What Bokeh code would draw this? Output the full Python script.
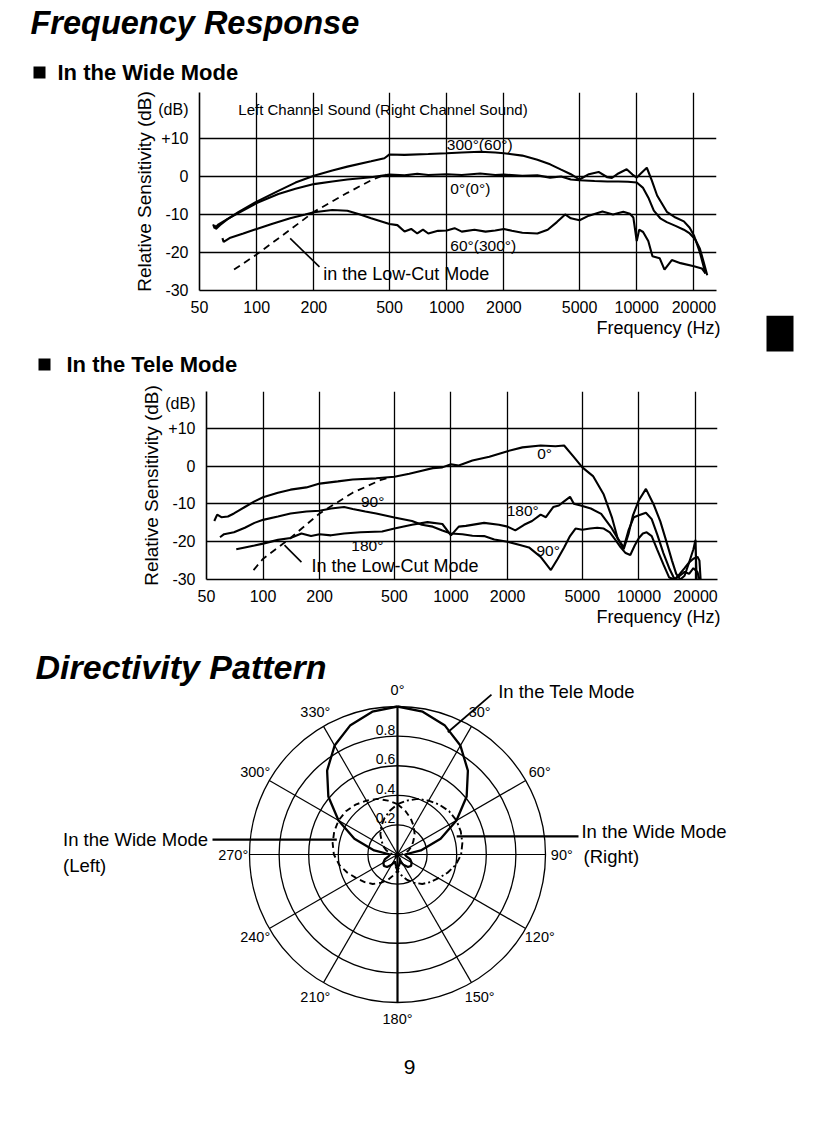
import math
from bokeh.plotting import figure
from bokeh.models import FixedTicker, PrintfTickFormatter, Label, Range1d
from bokeh.embed import file_html
from bokeh.resources import INLINE
from bokeh.core.properties import value

SANS = "Liberation Sans"

# ---------------- axes ----------------
freq_ticks = [50, 100, 200, 500, 1000, 2000, 5000, 10000, 20000]
freq_grid = [100, 200, 500, 1000, 2000, 5000, 10000, 20000]
db_ticks = [-30, -20, -10, 0, 10]
db_labels = ["-30", "-20", "-10", "0", "+10"]
db_grid = [-20, -10, 0, 10]

# ---------------- Wide mode ----------------
wide_0_f = [59, 60, 63, 70, 80, 100, 130, 160, 200, 250, 300, 400, 500, 600, 700, 800, 1000, 1200, 1500, 1800,
            2000, 2500, 3000, 3500, 4000, 4500, 5000, 6000, 7000, 8000, 9000, 10000, 10800, 11500, 12300,
            13300, 14400, 16000, 17700, 19000, 20300, 21500, 22500, 23500]
wide_0_db = [-12.6, -13.6, -12.6, -11.2, -9.6, -7, -4.6, -3.2, -2, -1.3, -0.8, -0.2, 0.5, 0.3, 0.7, 0.4, 0.6, 0.4,
             0.8, 0.4, 0.5, 0.2, 0.3, -0.3, 0, -0.8, -1, -1.2, -1.3, -1.3, -1.4, -1.6, -3, -5.5, -9,
             -11, -12, -13, -14, -15, -16.5, -19, -22.5, -26]

wide_300_f = [60, 61, 64, 70, 80, 100, 130, 160, 200, 250, 300, 400, 470, 500, 600, 800, 1000, 1200, 1500, 1800,
              2000, 2500, 3000, 3500, 4000, 4500, 5000, 5600, 6300, 7000, 7400, 8000, 8850, 9500, 10000,
              10500, 11300, 12000, 12800, 14400, 16000, 17700, 19000, 20000, 21500, 23000]
wide_300_db = [-12.8, -13.8, -12.8, -11.3, -9.4, -6.6, -3.8, -1.6, 0.2, 1.6, 2.6, 4, 4.8, 5.8, 5.7, 5.9, 6.1, 6.3,
               6.5, 6.3, 6.1, 5.5, 4.4, 3.2, 1.8, 0.6, -0.8, 0.6, 1.2, -0.2, -0.4, 0.8, 1.9, 0.5, -0.3,
               0.8, 2.3, -1, -5, -9.3, -10.8, -11.8, -13.5, -15.5, -20, -25.5]

wide_60_f = [66, 67, 72, 85, 100, 120, 150, 180, 200, 250, 300, 350, 400, 500, 550, 600, 650, 700, 750, 800,
             900, 1000, 1100, 1200, 1400, 1600, 1800, 2000, 2200, 2500, 3000, 3400, 3800, 4200, 4500,
             5000, 5600, 6600, 7500, 8500, 9200, 9600, 10000, 10300, 10800, 11500, 12100, 13200, 14000,
             15300, 17000, 20000, 22000, 23000]
wide_60_db = [-16.2, -17.2, -16.2, -15, -13.8, -12.5, -11, -10, -9.4, -8.8, -9, -10, -11, -12.5, -12.8, -14.5,
              -13.8, -15, -14, -15, -14.3, -14.2, -13.6, -14.5, -14, -14.5, -14.2, -13.8, -14.3, -14.8,
              -15, -14, -12, -10, -11, -11.5, -10.3, -9.2, -10, -9.3, -9.8, -10.8, -17, -14, -14.6,
              -17, -21, -21.5, -24.5, -22, -22.8, -23.6, -24.2, -25.5]

wide_lowcut_f = [76, 100, 150, 200, 300, 400, 480]
wide_lowcut_db = [-24.5, -20.5, -14, -9.3, -4.3, -1, 0.6]

# ---------------- Tele mode ----------------
tele_0_f = [55, 57, 60, 65, 70, 80, 90, 100, 120, 140, 170, 200, 250, 300, 400, 500, 600, 700, 800, 900,
            1000, 1100, 1300, 1600, 2000, 2400, 3000, 3600, 4000, 4500, 5000, 5700, 6500, 7200, 7700,
            8300, 8800, 9300, 10000, 10900, 12000, 13000, 14000, 15000, 15800, 16600, 17500, 18500,
            19500, 20000, 20300]
tele_0_db = [-14.5, -12.8, -13.5, -13.3, -12.5, -10.8, -9.3, -8.2, -7, -6.2, -5.6, -4.6, -4, -3.5, -3.2, -2.8,
             -2, -1.2, -0.5, -0.3, 0.5, 0.2, 1.5, 2.5, 4, 5, 5.5, 5.3, 5.5, 2.5, -0.3, -2.6, -7.5, -13.7,
             -19, -22, -18, -13, -9, -6, -10.2, -14.6, -19.9, -25, -28.5, -30, -29, -25.5, -22, -19.5, -30]

tele_90_f = [59, 62, 70, 80, 90, 100, 120, 140, 170, 200, 230, 270, 300, 350, 400, 500, 620, 700, 800, 900,
             1000, 1150, 1300, 1500, 1700, 2000, 2300, 2600, 3000, 3400, 3700, 4000, 4300, 4600, 5000,
             5500, 6000, 6500, 7000, 7500, 8000, 8500, 9000, 9500, 10000, 10500, 11000, 11700, 12500,
             13500, 14500, 15500, 16500, 17500, 18500, 19500, 20500, 21000]
tele_90_db = [-18.8, -18, -17.5, -16.3, -15, -14.2, -13.3, -12.5, -12, -11.8, -11.2, -10.8, -11.3, -12, -12.5,
              -13.6, -14.5, -15.5, -16, -17, -17.8, -18, -18.4, -18.5, -19.4, -20, -20.8, -21.5, -24, -27.5,
              -24.5, -21.5, -18.5, -16.5, -16.8, -16.5, -16.3, -16.5, -17.5, -19.5, -21.5, -23, -23.5,
              -21, -19, -17.8, -17.5, -18.5, -22, -26, -29.5, -30, -29, -28, -28.5, -27, -28, -30]

tele_180_f = [72, 80, 90, 100, 120, 140, 160, 180, 200, 230, 270, 330, 430, 500, 620, 750, 900, 1000, 1100,
              1200, 1500, 1800, 2000, 2200, 2450, 2700, 3000, 3200, 3500, 3750, 3950, 4300, 4500, 4900,
              5550, 6300, 7100, 7800, 8300, 8800, 9400, 10000, 10900, 11700, 12500, 13500, 14500, 15500,
              16500, 17500, 18500, 19500, 20500, 21000, 21300]
tele_180_db = [-22, -21.5, -21, -20.5, -19.5, -19, -17.8, -18.5, -18, -18.3, -17.8, -17.5, -17.3, -16.5, -15.5,
               -14.8, -15.3, -18.3, -16, -15.8, -15, -15.5, -16, -17, -15.5, -14.5, -12.8, -13.5, -10.8,
               -10.4, -9.5, -8.1, -9.9, -10.4, -11.2, -12.6, -16.1, -19.5, -21.5, -17, -13.5, -13, -12.3,
               -14, -18, -23, -27, -30, -28.5, -27, -25.5, -24.5, -24, -25, -30]

tele_lowcut_f = [89, 100, 140, 200, 300, 420, 470]
tele_lowcut_db = [-27.5, -24.5, -19, -12.5, -7, -3.7, -3]

# ---------------- Directivity (compass angles, degrees) ----------------
polar_angles = list(range(0, 360, 10))
tele_r = [1.0, 0.98, 0.93, 0.85, 0.74, 0.61, 0.46, 0.31, 0.16, 0.05, 0.06, 0.09, 0.11, 0.12, 0.11, 0.08,
          0.05, 0.07, 0.09, 0.07, 0.05, 0.08, 0.11, 0.12, 0.11, 0.09, 0.06, 0.05, 0.16, 0.31, 0.46, 0.61,
          0.74, 0.85, 0.93, 0.98]
wide_left_r = [0.34, 0.30, 0.26, 0.22, 0.18, 0.14, 0.11, 0.08, 0.05, 0.03, 0.015, 0.005, 0.0, 0.005, 0.015,
               0.03, 0.05, 0.08, 0.11, 0.14, 0.18, 0.22, 0.26, 0.29, 0.32, 0.36, 0.40, 0.43, 0.445, 0.455,
               0.46, 0.455, 0.44, 0.42, 0.40, 0.37]
wide_right_r = [0.34, 0.37, 0.40, 0.42, 0.44, 0.455, 0.46, 0.455, 0.445, 0.43, 0.40, 0.36, 0.32, 0.29, 0.26,
                0.22, 0.18, 0.14, 0.11, 0.08, 0.05, 0.03, 0.015, 0.005, 0.0, 0.005, 0.015, 0.03, 0.05, 0.08,
                0.11, 0.14, 0.18, 0.22, 0.26, 0.30]
ring_r = [0.2, 0.4, 0.6, 0.8, 1.0]
ring_labels = ["0.2", "0.4", "0.6", "0.8"]
spoke_angles = list(range(0, 360, 30))
spoke_labels = [f"{a}°" for a in spoke_angles]


def bare(width, height, xr, yr):
    f = figure(width=width, height=height, x_range=xr, y_range=yr,
               min_border_left=0, min_border_right=0, min_border_top=0, min_border_bottom=0,
               output_backend="svg", toolbar_location=None, title=None,
               x_axis_location=None, y_axis_location=None)
    f.grid.visible = False
    f.outline_line_color = None
    f.background_fill_color = "white"
    f.border_fill_color = "white"
    return f


def txt(f, x, y, t, size, style="normal", align="left"):
    f.text(x=[x], y=[y], text=[t], text_font=value(SANS), text_font_size=size, text_font_style=style,
           text_align=align, text_baseline="middle", text_color="black")


def data_label(p, x, y, text, size="15.5px", align="left"):
    p.add_layout(Label(x=x, y=y, text=text, text_font=SANS, text_font_size=size,
                       text_align=align, text_baseline="middle", text_color="black"))


def make_chart(bl, fw, br, bt, fh, bb, x_end, y_end, unit_y):
    p = figure(x_axis_type="log", x_range=Range1d(50, x_end), y_range=Range1d(-30, y_end),
               frame_width=fw, frame_height=fh, min_border_left=bl, min_border_right=br,
               min_border_top=bt, min_border_bottom=bb, output_backend="svg",
               toolbar_location=None, title=None)
    p.outline_line_color = None
    p.background_fill_color = "white"
    p.border_fill_color = "white"
    xa = p.xaxis[0]
    xa.ticker = FixedTicker(ticks=freq_ticks, minor_ticks=[])
    xa.formatter = PrintfTickFormatter(format="%d")
    xa.major_tick_line_color = None
    xa.minor_tick_line_color = None
    xa.axis_line_color = "black"
    xa.axis_line_width = 1.6
    xa.major_label_text_font = SANS
    xa.major_label_text_font_size = "16px"
    xa.major_label_text_color = "black"
    xa.major_label_standoff = 4
    ya = p.yaxis[0]
    ya.ticker = FixedTicker(ticks=db_ticks + [unit_y], minor_ticks=[])
    overrides = dict(zip(db_ticks, db_labels))
    overrides[unit_y] = "(dB)"
    ya.major_label_overrides = overrides
    ya.major_tick_line_color = None
    ya.minor_tick_line_color = None
    ya.axis_line_color = "black"
    ya.axis_line_width = 1.6
    ya.major_label_text_font = SANS
    ya.major_label_text_font_size = "16px"
    ya.major_label_text_color = "black"
    ya.major_label_standoff = 5
    ya.axis_label = "Relative Sensitivity (dB)"
    ya.axis_label_text_font = SANS
    ya.axis_label_text_font_size = "19px"
    ya.axis_label_text_font_style = "normal"
    ya.axis_label_text_color = "black"
    ya.axis_label_standoff = 0
    p.xgrid.ticker = FixedTicker(ticks=freq_grid)
    p.ygrid.ticker = FixedTicker(ticks=db_grid)
    p.xgrid.grid_line_color = "black"
    p.ygrid.grid_line_color = "black"
    p.xgrid.grid_line_width = 1.3
    p.ygrid.grid_line_width = 1.3
    return p


# ---------------- R1: page header (page y 0..84) ----------------
r1 = bare(812, 84, Range1d(0, 812), Range1d(84, 0))
txt(r1, 30, 22, "Frequency Response", "32.5px", style="bold italic")
r1.quad(left=[33], right=[45], top=[66], bottom=[78], fill_color="black", line_color=None)
txt(r1, 57, 72, "In the Wide Mode", "22px", style="bold")

# ---------------- R2: wide mode chart (page y 84..314) ----------------
p1 = make_chart(199, 517, 96, 8, 198, 24, 26290, 22.1, 17.5)
for f, d in [(wide_0_f, wide_0_db), (wide_300_f, wide_300_db), (wide_60_f, wide_60_db)]:
    p1.line(f, d, line_color="black", line_width=2.1)
p1.line(wide_lowcut_f, wide_lowcut_db, line_color="black", line_width=1.8, line_dash="7 5")
p1.segment(x0=[150], y0=[-16.3], x1=[214], y1=[-23.8], line_color="black", line_width=1.6)
data_label(p1, 80, 17.6, "Left Channel Sound (Right Channel Sound)", size="15px")
data_label(p1, 1001, 8.4, "300°(60°)")
data_label(p1, 1045, -3.2, "0°(0°)")
data_label(p1, 1045, -18.2, "60°(300°)")
data_label(p1, 224, -25.6, "in the Low-Cut Mode", size="18px")

# ---------------- R3: between charts (page y 314..378) ----------------
r3 = bare(812, 64, Range1d(0, 812), Range1d(378, 314))
txt(r3, 720, 326, "Frequency (Hz)", "18px", align="right")
r3.quad(left=[766], right=[793], top=[314], bottom=[350], fill_color="black", line_color=None)
r3.quad(left=[38], right=[50], top=[357], bottom=[369], fill_color="black", line_color=None)
txt(r3, 66, 363, "In the Tele Mode", "22px", style="bold")

# ---------------- R4: tele mode chart (page y 378..602) ----------------
p2 = make_chart(206, 511, 95, 12, 188, 24, 26200, 19.8, 16.6)
for f, d in [(tele_0_f, tele_0_db), (tele_90_f, tele_90_db), (tele_180_f, tele_180_db)]:
    p2.line(f, d, line_color="black", line_width=2.1)
p2.line(tele_lowcut_f, tele_lowcut_db, line_color="black", line_width=1.8, line_dash="7 5")
p2.segment(x0=[130], y0=[-20.9], x1=[160], y1=[-25.4], line_color="black", line_width=1.6)
data_label(p2, 3150, 3.5, "0°", align="center")
data_label(p2, 383, -9.4, "90°", align="center")
data_label(p2, 2410, -11.8, "180°", align="center")
data_label(p2, 359, -20.9, "180°", align="center")
data_label(p2, 3290, -22.2, "90°", align="center")
data_label(p2, 181, -26.4, "In the Low-Cut Mode", size="18px")

# ---------------- R5: directivity pattern (page y 602..1120) ----------------
S = 148.0
p3 = bare(812, 518, Range1d(-397 / S, 415 / S), Range1d(-268 / S, 250 / S))
txt(p3, 2.182, 1.608, "Frequency (Hz)", "18px", align="right")
txt(p3, -2.446, 1.264, "Directivity Pattern", "34px", style="bold italic")

p3.circle(x=[0] * len(ring_r), y=[0] * len(ring_r), radius=ring_r, fill_color=None,
          line_color="black", line_width=1.3)
sx = [math.sin(math.radians(a)) for a in spoke_angles]
sy = [math.cos(math.radians(a)) for a in spoke_angles]
p3.segment(x0=[0] * len(sx), y0=[0] * len(sy), x1=sx, y1=sy, line_color="black",
           line_width=[2.2 if a in (0, 180) else 1.2 for a in spoke_angles])
p3.text(x=[1.11 * v for v in sx], y=[1.11 * v for v in sy], text=spoke_labels,
        text_font=value(SANS), text_font_size="14.5px", text_align="center", text_baseline="middle",
        text_color="black")
p3.text(x=[-0.015] * len(ring_labels), y=[r + 0.01 for r in ring_r[:4]], text=ring_labels,
        text_font=value(SANS), text_font_size="14px", text_align="right", text_baseline="bottom",
        text_color="black")


def polar_xy(angles, radii):
    xs = [r * math.sin(math.radians(a)) for a, r in zip(angles, radii)]
    ys = [r * math.cos(math.radians(a)) for a, r in zip(angles, radii)]
    return xs + xs[:1], ys + ys[:1]


tx, ty = polar_xy(polar_angles, tele_r)
p3.line(tx, ty, line_color="black", line_width=2.3)
lx, ly = polar_xy(polar_angles, wide_left_r)
p3.line(lx, ly, line_color="black", line_width=1.9, line_dash="6 4")
rx, ry = polar_xy(polar_angles, wide_right_r)
p3.line(rx, ry, line_color="black", line_width=1.9, line_dash="7 3 2 3")

p3.segment(x0=[0.635, -1.25, 0.40], y0=[1.08, 0.10, 0.122], x1=[0.34, -0.41, 1.223], y1=[0.826, 0.10, 0.122],
           line_color="black", line_width=[1.8, 2.2, 2.2])
p3.text(x=[0.68, -2.26, -2.26, 1.243, 1.257], y=[1.10, 0.10, -0.075, 0.155, -0.015],
        text=["In the Tele Mode", "In the Wide Mode", "(Left)", "In the Wide Mode", "(Right)"],
        text_font=value(SANS), text_font_size="18.5px", text_align="left", text_baseline="middle",
        text_color="black")
txt(p3, 0.081, -1.439, "9", "21px", align="center")

open("out.html", "w").write(file_html([r1, p1, r3, p2, p3], INLINE))
